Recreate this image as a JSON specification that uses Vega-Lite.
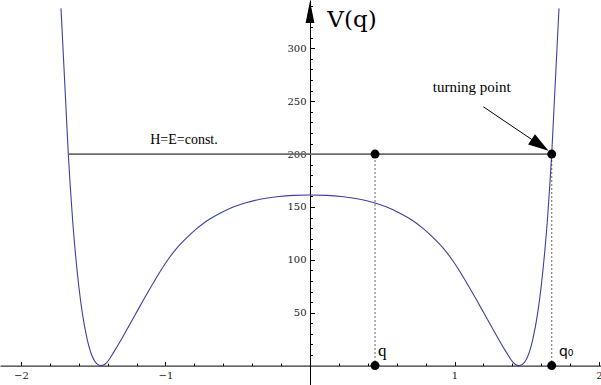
{
  "$schema": "https://vega.github.io/schema/vega-lite/v6.json",
  "width": 601,
  "height": 385,
  "padding": 0,
  "autosize": "none",
  "background": "white",
  "config": {"view": {"stroke": null}},
  "datasets": {
    "curve": [
      {"q": -1.7232, "v": 337.8}, {"q": -1.7087, "v": 298.4}, {"q": -1.6913, "v": 251.1}, {"q": -1.6727, "v": 200},
      {"q": -1.6588, "v": 169.2}, {"q": -1.6429, "v": 137.7}, {"q": -1.6235, "v": 106.2}, {"q": -1.6, "v": 75},
      {"q": -1.5758, "v": 49.8}, {"q": -1.5412, "v": 24.4}, {"q": -1.4948, "v": 5.3}, {"q": -1.47, "v": 1.2},
      {"q": -1.446, "v": 0}, {"q": -1.425, "v": 0.8}, {"q": -1.407, "v": 2.9}, {"q": -1.384, "v": 7},
      {"q": -1.361, "v": 12}, {"q": -1.315, "v": 22.5}, {"q": -1.269, "v": 33.7}, {"q": -1.211, "v": 47.8},
      {"q": -1.153, "v": 62}, {"q": -1.096, "v": 75.5}, {"q": -1.038, "v": 88.8}, {"q": -0.98, "v": 100.8},
      {"q": -0.923, "v": 110.9}, {"q": -0.854, "v": 120.8}, {"q": -0.784, "v": 129.5}, {"q": -0.715, "v": 136.8},
      {"q": -0.623, "v": 144}, {"q": -0.531, "v": 149.9}, {"q": -0.438, "v": 154.2}, {"q": -0.346, "v": 157.3},
      {"q": -0.23, "v": 159.7}, {"q": -0.115, "v": 161}, {"q": 0, "v": 161.3},
      {"q": 0.115, "v": 161}, {"q": 0.23, "v": 159.7}, {"q": 0.346, "v": 157.3}, {"q": 0.438, "v": 154.2},
      {"q": 0.531, "v": 149.9}, {"q": 0.623, "v": 144}, {"q": 0.715, "v": 136.8}, {"q": 0.784, "v": 129.5},
      {"q": 0.854, "v": 120.8}, {"q": 0.923, "v": 110.9}, {"q": 0.98, "v": 100.8}, {"q": 1.038, "v": 88.8},
      {"q": 1.096, "v": 75.5}, {"q": 1.153, "v": 62}, {"q": 1.211, "v": 47.8}, {"q": 1.269, "v": 33.7},
      {"q": 1.315, "v": 22.5}, {"q": 1.361, "v": 12}, {"q": 1.384, "v": 7}, {"q": 1.407, "v": 2.9},
      {"q": 1.425, "v": 0.8}, {"q": 1.446, "v": 0}, {"q": 1.47, "v": 1.2}, {"q": 1.4948, "v": 5.3},
      {"q": 1.5412, "v": 24.4}, {"q": 1.5758, "v": 49.8}, {"q": 1.6, "v": 75}, {"q": 1.6235, "v": 106.2},
      {"q": 1.6429, "v": 137.7}, {"q": 1.6588, "v": 169.2}, {"q": 1.6727, "v": 200}, {"q": 1.6913, "v": 251.1},
      {"q": 1.7087, "v": 298.4}, {"q": 1.7232, "v": 337.8}
    ],
    "energy": [{"q1": -1.6727, "q2": 1.6727, "v": 200}],
    "drops": [{"q": 0.45, "v1": 0, "v2": 200}, {"q": 1.6727, "v1": 0, "v2": 200}],
    "dots": [{"q": 0.45, "v": 200}, {"q": 0.45, "v": 0}, {"q": 1.6727, "v": 200}, {"q": 1.6727, "v": 0}],
    "arrow": [{"q1": 1.199, "v1": 244.8, "q2": 1.592, "v2": 208.5}],
    "yarrow": [{"q": 0, "v": 334.3}]
  },
  "resolve": {"axis": {"x": "independent", "y": "independent"}},
  "layer": [
    {
      "data": {"name": "curve"},
      "mark": {"type": "line", "color": "#3f3f9f", "strokeWidth": 1.1, "interpolate": "monotone", "clip": true},
      "encoding": {
        "x": {"field": "q", "type": "quantitative",
          "scale": {"domain": [-2.1453, 2.0138], "nice": false, "zero": false},
          "axis": {"orient": "bottom", "offset": -19.4, "values": [-2, -1, 1, 2], "format": "d", "title": null,
            "grid": false, "domain": true, "domainColor": "#000", "domainWidth": 1,
            "ticks": true, "tickSize": -4, "tickColor": "#000", "tickWidth": 1,
            "labelFont": "DejaVu Serif, serif", "labelFontSize": 10, "labelColor": "#222", "labelPadding": 9,
            "labelFlush": false, "labelOverlap": false, "labelBound": false}},
        "y": {"field": "v", "type": "quantitative",
          "scale": {"domain": [-18.34, 345.7], "nice": false, "zero": false},
          "axis": {"orient": "left", "offset": -310, "values": [50, 100, 150, 200, 250, 300], "format": "d", "title": null,
            "grid": false, "domain": true, "domainColor": "#000", "domainWidth": 1,
            "ticks": true, "tickSize": -4.5, "tickColor": "#000", "tickWidth": 1,
            "labelFont": "DejaVu Serif, serif", "labelFontSize": 10, "labelColor": "#222", "labelPadding": 8.5,
            "labelOverlap": false, "labelBound": false}}
      }
    },
    {
      "data": {"name": "energy"},
      "mark": {"type": "rule", "color": "#6b6b6b", "strokeWidth": 1.8},
      "encoding": {
        "x": {"field": "q1", "type": "quantitative",
          "axis": {"orient": "bottom", "offset": -19.4, "title": null, "labels": false, "domain": false, "grid": false,
            "values": [-2, -1.8, -1.6, -1.4, -1.2, -0.8, -0.6, -0.4, -0.2, 0.2, 0.4, 0.6, 0.8, 1.2, 1.4, 1.6, 1.8],
            "tickSize": -2.5, "tickColor": "#000", "tickWidth": 1}},
        "x2": {"field": "q2"},
        "y": {"field": "v", "type": "quantitative",
          "axis": {"orient": "left", "offset": -310, "title": null, "labels": false, "domain": false, "grid": false,
            "values": [10, 20, 30, 40, 60, 70, 80, 90, 110, 120, 130, 140, 160, 170, 180, 190, 210, 220, 230, 240, 260, 270, 280, 290, 310, 320, 330, 340],
            "tickSize": -2.5, "tickColor": "#000", "tickWidth": 1}}
      }
    },
    {
      "data": {"name": "drops"},
      "mark": {"type": "rule", "color": "#000", "strokeWidth": 1.2, "strokeDash": [1.2, 2.8]},
      "encoding": {
        "x": {"field": "q", "type": "quantitative", "axis": null},
        "y": {"field": "v1", "type": "quantitative", "axis": null},
        "y2": {"field": "v2"}
      }
    },
    {
      "data": {"name": "arrow"},
      "mark": {"type": "rule", "color": "#000", "strokeWidth": 1},
      "encoding": {
        "x": {"field": "q1", "type": "quantitative", "axis": null},
        "y": {"field": "v1", "type": "quantitative", "axis": null},
        "x2": {"field": "q2"},
        "y2": {"field": "v2"}
      }
    },
    {
      "data": {"name": "arrow"},
      "mark": {"type": "point", "shape": "M1,0L-1,-0.6L-1,0.6Z", "size": 420, "angle": 34, "filled": true, "color": "#000", "opacity": 1, "strokeWidth": 0},
      "encoding": {
        "x": {"field": "q2", "type": "quantitative", "axis": null},
        "y": {"field": "v2", "type": "quantitative", "axis": null}
      }
    },
    {
      "data": {"name": "yarrow"},
      "mark": {"type": "point", "shape": "M0,-1L-0.4,1L0.4,1Z", "size": 484, "filled": true, "color": "#000", "opacity": 1, "strokeWidth": 0},
      "encoding": {
        "x": {"field": "q", "type": "quantitative", "axis": null},
        "y": {"field": "v", "type": "quantitative", "axis": null}
      }
    },
    {
      "data": {"name": "dots"},
      "mark": {"type": "circle", "size": 81, "color": "#000", "opacity": 1},
      "encoding": {
        "x": {"field": "q", "type": "quantitative", "axis": null},
        "y": {"field": "v", "type": "quantitative", "axis": null}
      }
    },
    {
      "data": {"values": [{"q": 0.12, "v": 320.2, "label": "V(q)"}]},
      "mark": {"type": "text", "font": "DejaVu Serif, serif", "fontSize": 23, "align": "left", "baseline": "alphabetic", "color": "#000"},
      "encoding": {
        "x": {"field": "q", "type": "quantitative", "axis": null},
        "y": {"field": "v", "type": "quantitative", "axis": null},
        "text": {"field": "label"}
      }
    },
    {
      "data": {"values": [{"q": -0.872, "v": 209.2, "label": "H=E=const."}]},
      "mark": {"type": "text", "font": "Liberation Serif, Times New Roman, serif", "fontSize": 14, "align": "center", "baseline": "alphabetic", "color": "#000"},
      "encoding": {
        "x": {"field": "q", "type": "quantitative", "axis": null},
        "y": {"field": "v", "type": "quantitative", "axis": null},
        "text": {"field": "label"}
      }
    },
    {
      "data": {"values": [{"q": 1.119, "v": 259, "label": "turning point"}]},
      "mark": {"type": "text", "font": "Liberation Serif, Times New Roman, serif", "fontSize": 15, "align": "center", "baseline": "alphabetic", "color": "#000"},
      "encoding": {
        "x": {"field": "q", "type": "quantitative", "axis": null},
        "y": {"field": "v", "type": "quantitative", "axis": null},
        "text": {"field": "label"}
      }
    },
    {
      "data": {"values": [{"q": 0.47, "v": 9.1, "label": "q"}]},
      "mark": {"type": "text", "font": "Liberation Serif, Times New Roman, serif", "fontSize": 17, "align": "left", "baseline": "alphabetic", "color": "#000"},
      "encoding": {
        "x": {"field": "q", "type": "quantitative", "axis": null},
        "y": {"field": "v", "type": "quantitative", "axis": null},
        "text": {"field": "label"}
      }
    },
    {
      "data": {"values": [{"q": 1.723, "v": 9.1, "label": "q₀"}]},
      "mark": {"type": "text", "font": "DejaVu Sans", "fontSize": 14, "align": "left", "baseline": "alphabetic", "color": "#000"},
      "encoding": {
        "x": {"field": "q", "type": "quantitative", "axis": null},
        "y": {"field": "v", "type": "quantitative", "axis": null},
        "text": {"field": "label"}
      }
    }
  ]
}
